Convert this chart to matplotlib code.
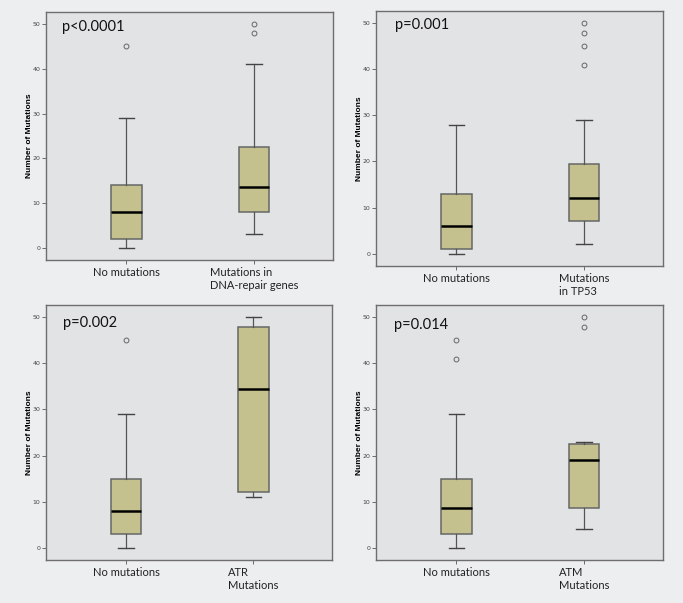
import matplotlib
matplotlib.use('Agg')
import matplotlib.pyplot as plt

# box stats: (whislo, q1, med, q3, whishi, outliers)
no_mut_1 = (0, 2, 8, 14, 29, [45])
dna_repair = (3, 8, 13.5, 22.5, 41, [48, 50])
no_mut_2 = (0, 1, 6, 13, 28, [])
tp53 = (2, 7, 12, 19.5, 29, [41, 45, 48, 50])
no_mut_3 = (0, 3, 8, 15, 29, [45])
atr = (11, 12, 34.5, 48, 50, [])
no_mut_4 = (0, 3, 8.5, 15, 29, [41, 45])
atm = (4, 8.5, 19, 22.5, 23, [48, 50])

labels_1 = ['No mutations', 'Mutations in\nDNA-repair genes']
labels_2 = ['No mutations', 'Mutations\nin TP53']
labels_3 = ['No mutations', 'ATR\nMutations']
labels_4 = ['No mutations', 'ATM\nMutations']

p_values = ['p<0.0001', 'p=0.001', 'p=0.002', 'p=0.014']
y_ticks = [0, 10, 20, 30, 40, 50]

FIG_BG = '#edeef0'
AX_BG = '#e2e3e5'
BOX_FILL = '#c4c18f'
EDGE = '#666666'


def to_stats(vals, label):
    lo, q1, med, q3, hi, fl = vals
    return dict(whislo=lo, q1=q1, med=med, q3=q3, whishi=hi, fliers=fl, label=label)


panels = [
    ([no_mut_1, dna_repair], labels_1, p_values[0], [0.0673, 0.5688, 0.4202, 0.4113], (0.94, 0.055)),
    ([no_mut_2, tp53], labels_2, p_values[1], [0.5505, 0.5589, 0.4202, 0.4229], (0.945, 0.066)),
    ([no_mut_3, atr], labels_3, p_values[2], [0.0673, 0.0713, 0.4190, 0.4229], (0.93, 0.059)),
    ([no_mut_4, atm], labels_4, p_values[3], [0.5505, 0.0713, 0.4202, 0.4229], (0.92, 0.063)),
]

fig = plt.figure(figsize=(6.83, 6.03), dpi=100, facecolor=FIG_BG)

for groups, labels, ptxt, rect, (ty, tx) in panels:
    ax = fig.add_axes(rect)
    ax.set_facecolor(AX_BG)
    stats = [to_stats(g, l) for g, l in zip(groups, labels)]
    ax.bxp(stats, positions=[1, 2], widths=0.24, capwidths=0.12,
           patch_artist=True, showfliers=True,
           boxprops=dict(facecolor=BOX_FILL, edgecolor=EDGE, linewidth=1.1),
           medianprops=dict(color='black', linewidth=1.8),
           whiskerprops=dict(color='#555555', linewidth=0.9),
           capprops=dict(color='#444444', linewidth=1.0),
           flierprops=dict(marker='o', markersize=3.5, markerfacecolor='none',
                           markeredgecolor='#666666', markeredgewidth=0.7))
    ax.set_xlim(0.37, 2.62)
    ax.set_ylim(-2.7, 52.7)
    ax.set_yticks(y_ticks)
    ax.tick_params(axis='y', labelsize=4.5, labelcolor='#444444', length=3,
                   width=0.6, color='#555555', pad=1)
    ax.tick_params(axis='x', labelsize=8, labelcolor='#222222', length=3,
                   width=0.6, color='#555555', pad=2)
    for t in ax.get_xticklabels():
        t.set_family('Lato')
        t.set_multialignment('left')
    for s in ax.spines.values():
        s.set_color('#6e6e6e')
        s.set_linewidth(1.0)
    ax.set_ylabel('Number of Mutations', fontsize=6, fontweight='bold',
                  family='Liberation Sans', labelpad=0)
    ax.text(tx, ty, ptxt, transform=ax.transAxes, fontsize=10.5, family='Lato',
            ha='left', va='center', color='#111111')

fig.savefig('out.png', dpi=100, facecolor=FIG_BG)
